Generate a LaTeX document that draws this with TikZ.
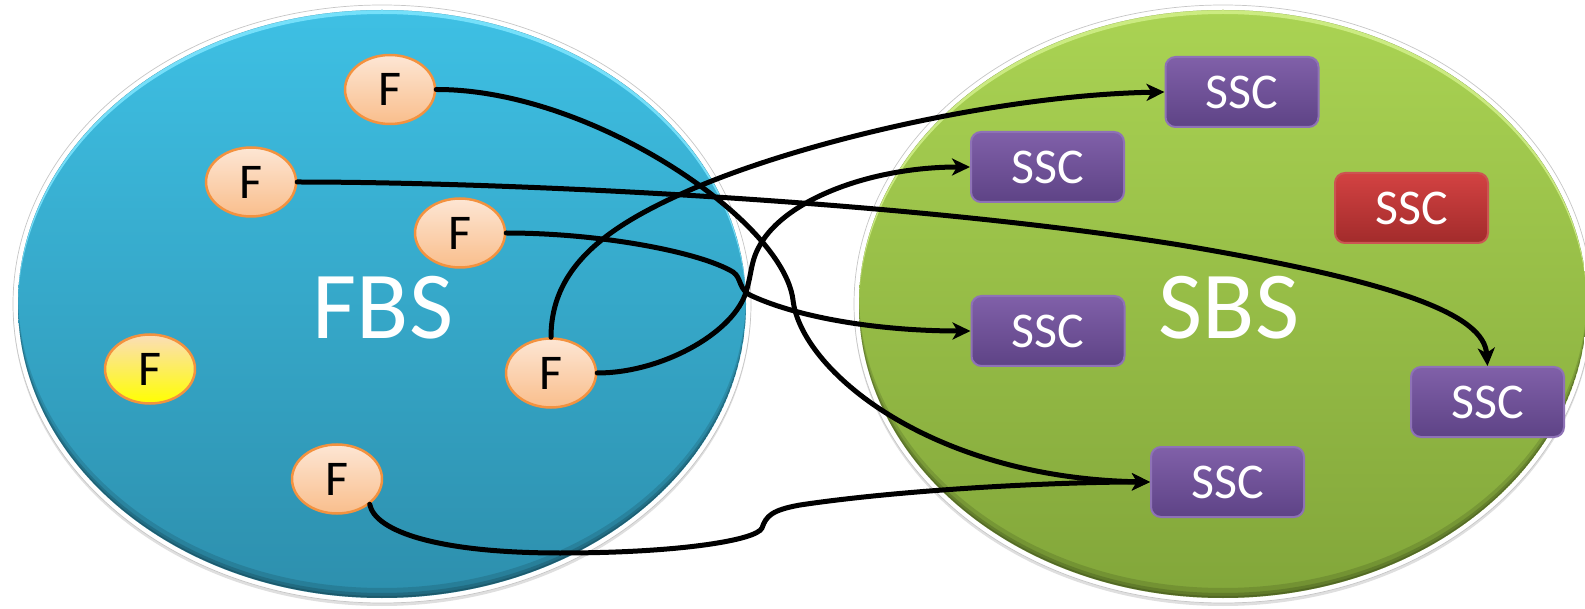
\documentclass[tikz,border=0pt]{standalone}
\usepackage{fontspec}
\setmainfont{Carlito}
\usetikzlibrary{shapes.geometric,arrows.meta,shadows}

\definecolor{fbsTop}{HTML}{3EC0E4}
\definecolor{fbsBot}{HTML}{2D8FAD}
\definecolor{fbsRim}{HTML}{7FE6FF}
\definecolor{sbsTop}{HTML}{AAD353}
\definecolor{sbsBot}{HTML}{82A63A}
\definecolor{sbsRim}{HTML}{D2F08A}
\definecolor{fTop}{HTML}{FDE6D4}
\definecolor{fBot}{HTML}{F9BE8C}
\definecolor{fEdge}{HTML}{F3923F}
\definecolor{yTop}{HTML}{FBDDB8}
\definecolor{yBot}{HTML}{FFFF00}
\definecolor{sscTop}{HTML}{8060A9}
\definecolor{sscBot}{HTML}{5E4386}
\definecolor{sscEdge}{HTML}{8E72B6}
\definecolor{redTop}{HTML}{D34242}
\definecolor{redBot}{HTML}{A22B2B}
\definecolor{redEdge}{HTML}{CB5552}

\begin{document}
\begin{tikzpicture}[x=1pt,y=-1pt,
  halo/.style={ellipse, minimum width=738pt, minimum height=598pt, inner sep=0pt,
    fill=white, draw=gray!45, line width=0.7pt,
    drop shadow={shadow xshift=0pt, shadow yshift=-3pt, opacity=0.25, fill=gray}},
  region/.style={ellipse, minimum width=728pt, minimum height=588pt, inner sep=0pt},
  bigtext/.style={text=white, font=\fontsize{96}{100}\selectfont},
  fnode/.style={ellipse, minimum width=90pt, minimum height=69pt, inner sep=0pt,
    top color=fTop, bottom color=fBot, draw=fEdge, line width=2.5pt,
    font=\fontsize{50}{54}\selectfont},
  ynode/.style={fnode, top color=yTop, bottom color=yBot},
  sscbox/.style={rectangle, rounded corners=10pt, minimum width=153pt, minimum height=70pt,
    inner sep=0pt, top color=sscTop, bottom color=sscBot, draw=sscEdge, line width=2pt,
    text=white, font=\fontsize{50}{54}\selectfont},
  redbox/.style={sscbox, top color=redTop, bottom color=redBot, draw=redEdge},
  link/.style={line width=5pt, black, line cap=round},
  arr/.style={link, -{Stealth[length=18pt, width=17pt, inset=5pt]}},
  er/.style={x radius=364pt, y radius=294pt}
]
\useasboundingbox (0,0) rectangle (1585,609);

% the two base stations
\node[halo] (fbshalo) at (382,304) {};
\node[halo] (sbshalo) at (1223,304) {};
\node[region, top color=fbsTop, bottom color=fbsBot] (fbs) at (382,304) {};
\node[region, top color=sbsTop, bottom color=sbsBot] (sbs) at (1223,304) {};

% bevel: light rim on top, dark rim at the bottom
\foreach \cx/\rim in {382/fbsRim, 1223/sbsRim} {
  \begin{scope}
    \clip (\cx,304) ellipse [er];
    \fill[\rim, opacity=0.85, even odd rule] (\cx,304) ellipse [er] (\cx,308) ellipse [er];
    \fill[black, opacity=0.12, even odd rule] (\cx,304) ellipse [er] (\cx,294) ellipse [er];
    \fill[black, opacity=0.15, even odd rule] (\cx,304) ellipse [er] (\cx,299) ellipse [er];
    \fill[black, opacity=0.15, even odd rule] (\cx,304) ellipse [er] (\cx,302) ellipse [er];
  \end{scope}
}

\node[bigtext] (fbslabel) at (383,308) {FBS};
\node[bigtext] (sbslabel) at (1229,308) {SBS};

% femtocells
\node[fnode] (f1) at (390,89.5) {F};
\node[fnode] (f2) at (251,182) {F};
\node[fnode] (f3) at (460,233) {F};
\node[ynode] (fy) at (150,369) {F};
\node[fnode] (f5) at (551,373) {F};
\node[fnode] (f6) at (337,479) {F};

% small-cell stations
\node[sscbox] (s1) at (1242,92) {SSC};
\node[sscbox] (s2) at (1047.5,167) {SSC};
\node[redbox] (s3) at (1411.5,208) {SSC};
\node[sscbox] (s4) at (1048,331) {SSC};
\node[sscbox] (s5) at (1487.5,402) {SSC};
\node[sscbox] (s6) at (1227.5,482) {SSC};

% associations
\draw[arr] (f1.east) .. controls (590,89) and (783,220) .. (793,300)
  .. controls (801,370) and (930,478) .. (s6.west);
\draw[arr] (f2.east) .. controls (500,182) and (900,200) .. (1180,245)
  .. controls (1400,282) and (1484,315) .. (s5.north);
\draw[arr] (f3.east) .. controls (600,233) and (700,252) .. (733,272)
  .. controls (742,278) and (738,290) .. (752,296)
  .. controls (800,318) and (880,331) .. (s4.west);
\draw[arr] (f5.north) .. controls (551,265) and (610,225) .. (690,190)
  .. controls (800,142) and (1000,95) .. (s1.west);
\draw[arr] (f5.east) .. controls (660,373) and (730,335) .. (745,295)
  .. controls (752,275) and (750,262) .. (760,245)
  .. controls (785,200) and (870,167) .. (s2.west);
\draw[arr] (f6.south east) .. controls (375,532) and (440,553) .. (560,553)
  .. controls (680,553) and (757,540) .. (762,528)
  .. controls (766,516) and (772,510) .. (800,505)
  .. controls (900,490) and (1050,482) .. (s6.west);
\end{tikzpicture}
\end{document}
